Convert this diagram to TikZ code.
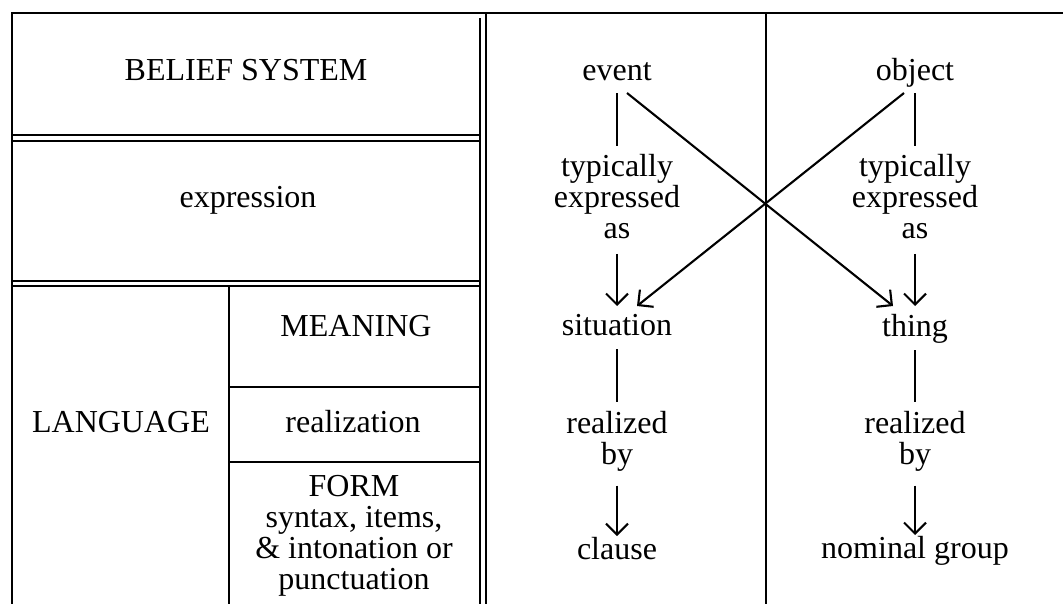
\documentclass[tikz,border=0pt]{standalone}
\usepackage{fontspec}
\setmainfont{Liberation Serif}
\usetikzlibrary{arrows.meta}

\tikzset{
  rule/.style={line width=2.1pt, line cap=rect},
  heavyrule/.style={line width=2.8pt},
  lbl/.style={inner sep=0pt, font=\fontsize{32}{31}\selectfont},
  mlbl/.style={lbl, align=center, anchor=north},
  link/.style={line width=2.1pt},
  flow/.style={line width=2.1pt, -{Straight Barb[length=11pt,width=22pt]}}
}

\begin{document}
\begin{tikzpicture}[x=1pt,y=-1pt]
\useasboundingbox (0,0) rectangle (1063,603);

% --- table frame ---
\draw[heavyrule] (12,13) -- (1063,13);
\draw[rule] (12,13) -- (12,603);
\draw[rule] (486,13) -- (486,603);
\draw[rule] (480,19) -- (480,603);
\draw[rule] (12,135) -- (480,135);
\draw[rule] (12,141) -- (480,141);
\draw[rule] (12,281) -- (480,281);
\draw[rule] (12,286) -- (480,286);
\draw[rule] (229,286) -- (229,603);
\draw[rule] (229,387) -- (480,387);
\draw[rule] (229,462) -- (480,462);
\draw[rule] (766,13) -- (766,603);

% --- left half: levels ---
\node[lbl, anchor=base] (belief) at (246,80) {BELIEF SYSTEM};
\node[lbl, anchor=base] (expr) at (248,207) {expression};
\node[lbl, anchor=base] (lang) at (121,432) {LANGUAGE};
\node[lbl, anchor=base] (meaning) at (356,336) {MEANING};
\node[lbl, anchor=base] (realiz) at (353,432) {realization};
\node[mlbl] (form) at (354,475) {FORM\\syntax, items,\\\& intonation or\\punctuation};

% --- event column ---
\node[lbl, anchor=base] (event) at (617,80) {event};
\node[mlbl] (typA) at (617,154) {typically\\expressed\\as};
\node[lbl, anchor=base] (sit) at (617,335) {situation};
\node[mlbl] (realA) at (617,411) {realized\\by};
\node[lbl, anchor=base] (clause) at (617,559) {clause};

% --- object column ---
\node[lbl, anchor=base] (object) at (915,80) {object};
\node[mlbl] (typB) at (915,154) {typically\\expressed\\as};
\node[lbl, anchor=base] (thing) at (915,336) {thing};
\node[mlbl] (realB) at (915,411) {realized\\by};
\node[lbl, anchor=base] (ngroup) at (915,558) {nominal group};

% --- connectors ---
\draw[link] ([yshift=-13pt]event.base) -- ([yshift=8pt]typA.north);
\draw[flow] ([yshift=-15pt]typA.south) -- ([yshift=29pt]sit.base);
\draw[link] ([yshift=-14pt]sit.base) -- ([yshift=9pt]realA.north);
\draw[flow] ([yshift=-14pt]realA.south) -- ([yshift=23pt]clause.base);

\draw[link] ([yshift=-13pt]object.base) -- ([yshift=8pt]typB.north);
\draw[flow] ([yshift=-15pt]typB.south) -- ([yshift=30pt]thing.base);
\draw[link] ([yshift=-14pt]thing.base) -- ([yshift=9pt]realB.north);
\draw[flow] ([yshift=-14pt]realB.south) -- ([yshift=23pt]ngroup.base);

\draw[flow] ([xshift=10pt,yshift=-13pt]event.base) -- ([xshift=-22pt,yshift=30pt]thing.base);
\draw[flow] ([xshift=-11pt,yshift=-13pt]object.base) -- ([xshift=20pt,yshift=29pt]sit.base);
\end{tikzpicture}
\end{document}
